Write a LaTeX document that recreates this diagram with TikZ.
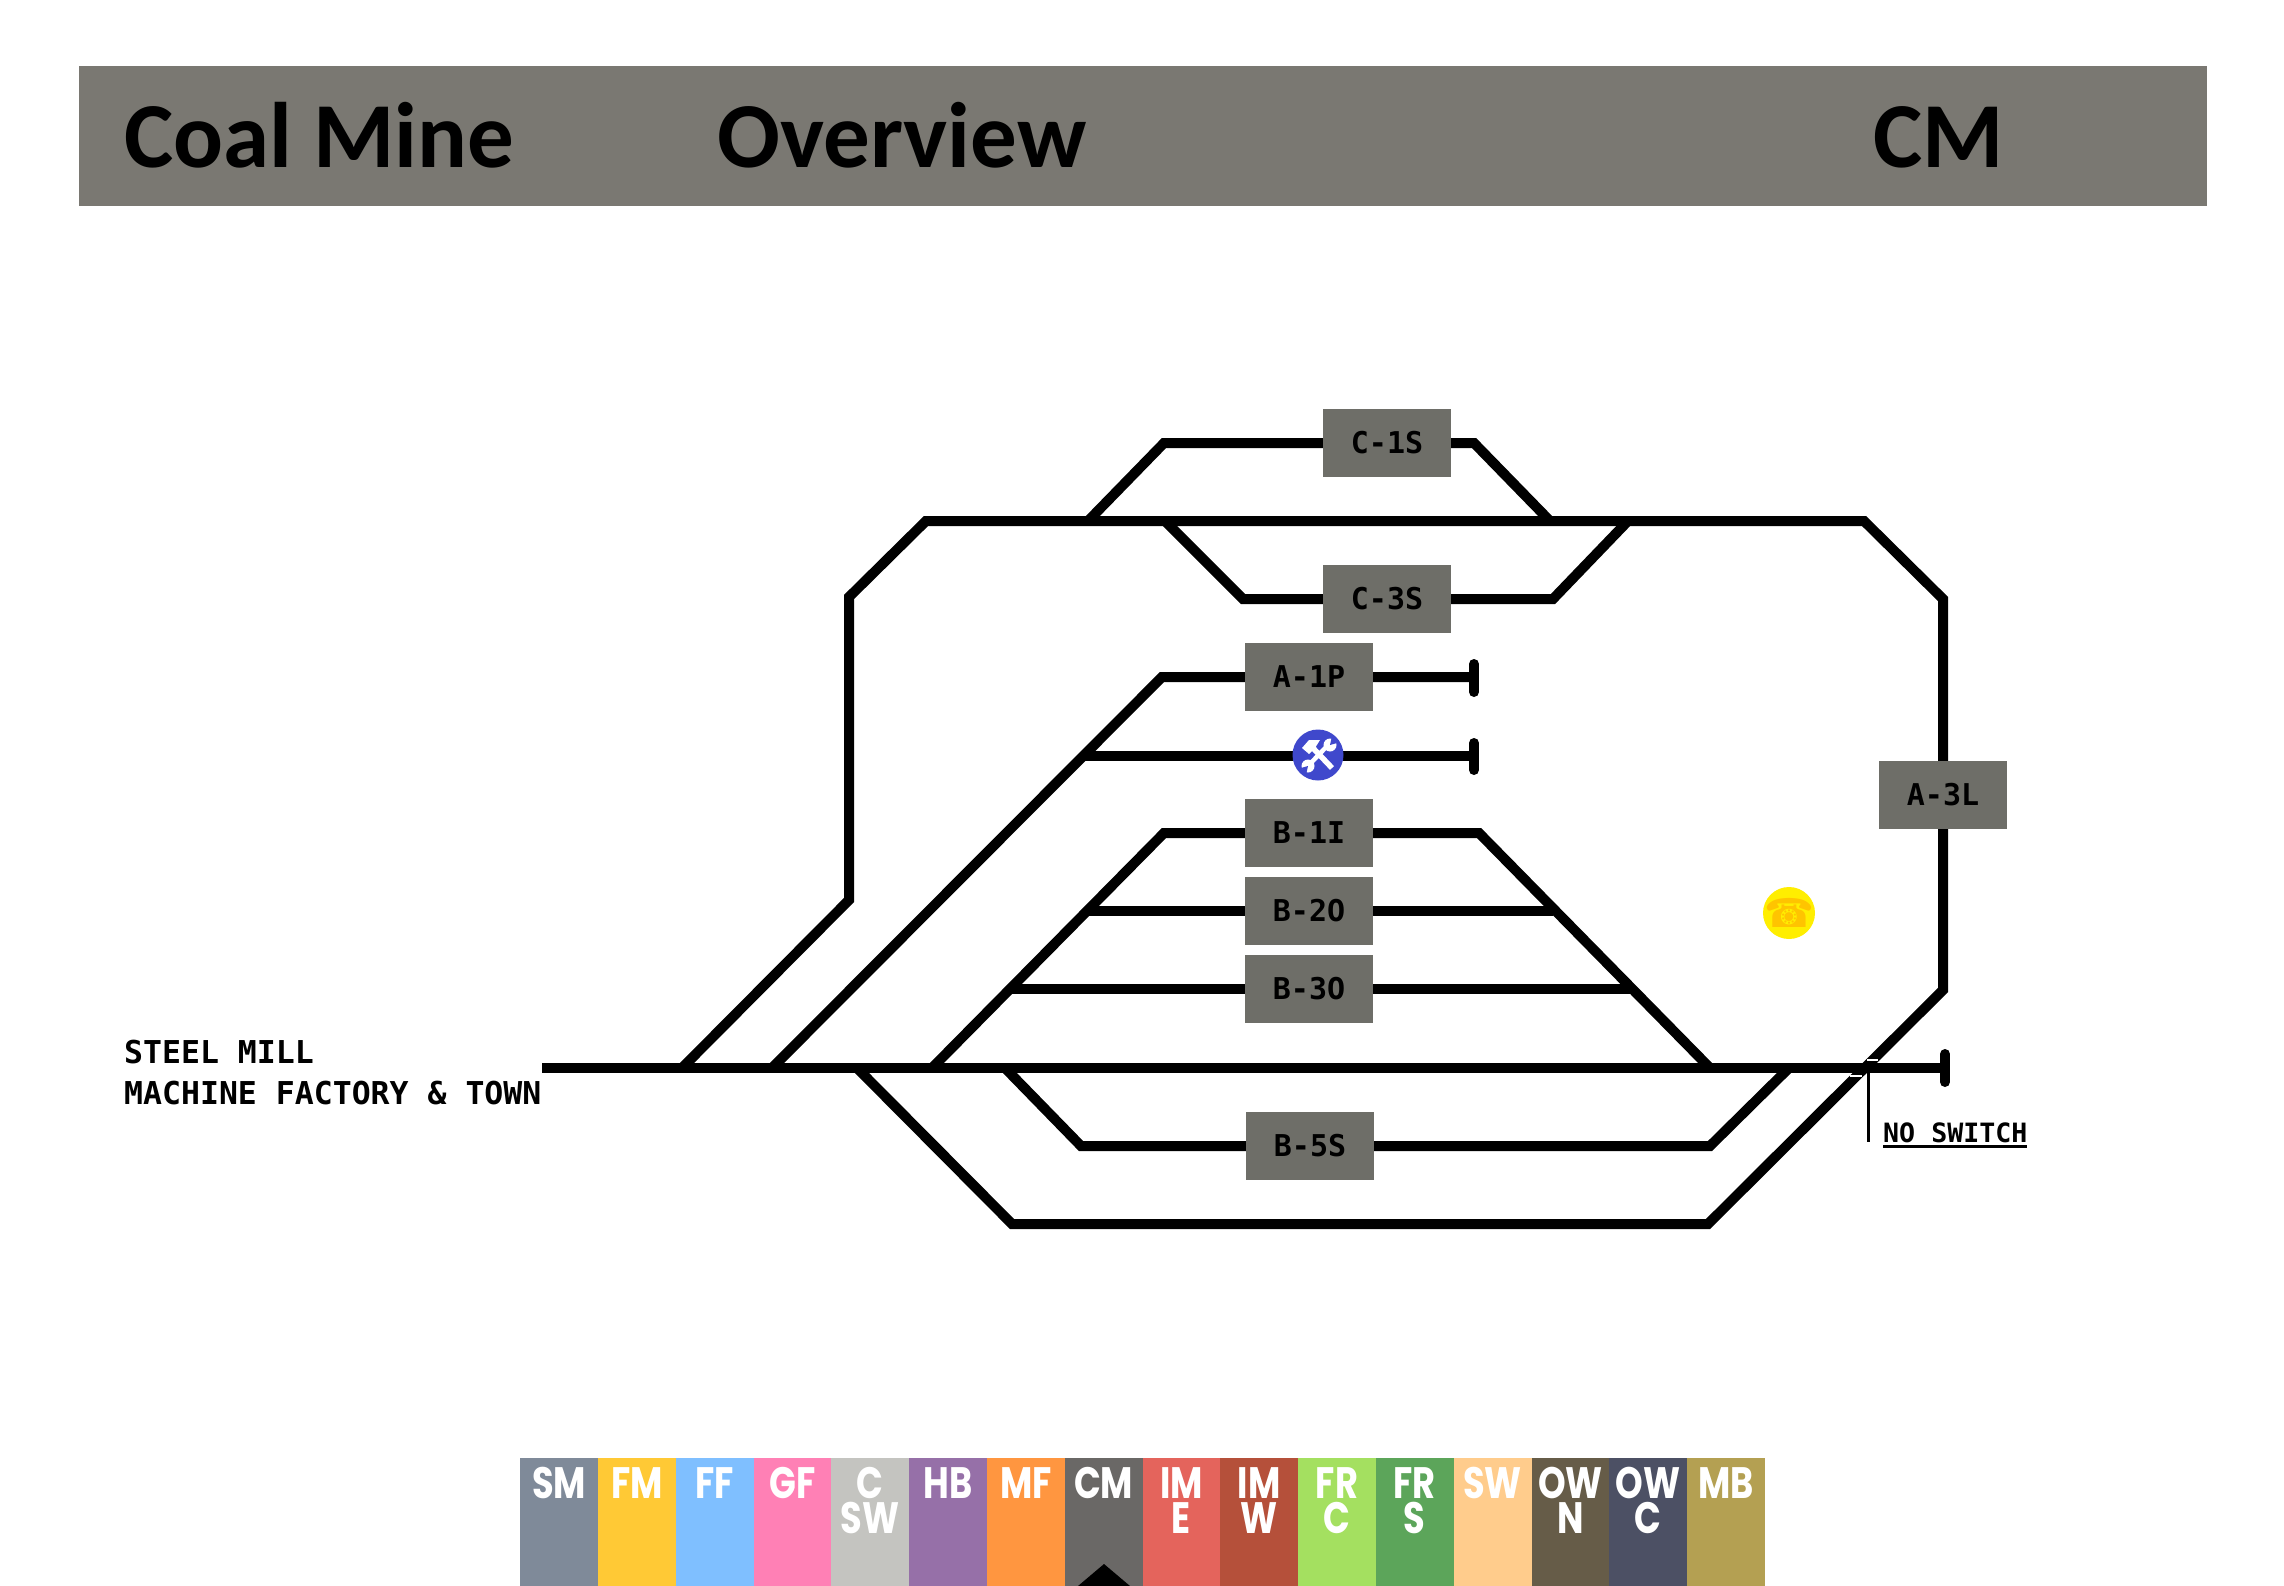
\documentclass[tikz,border=0pt]{standalone}
\usepackage{fontspec}
\usepackage{graphicx}
\setmainfont{DejaVu Sans Mono}
\newfontfamily\titlefont{Carlito}
\newfontfamily\tabfont{Poppins}
\newfontfamily\symfont{DejaVu Sans}
\definecolor{barc}{HTML}{7A7872}
\definecolor{boxc}{HTML}{6E6E68}
\definecolor{toolc}{HTML}{3F48CC}
\definecolor{phonebg}{HTML}{FFEE00}
\definecolor{phonefg}{HTML}{FFC400}
\tikzset{
  track/.style={line width=10pt,black,miter limit=10},
  stopper/.style={line width=10pt,black,line cap=round},
  box/.style={fill=boxc,minimum width=128pt,minimum height=68pt,inner sep=0pt,font=\fontsize{30}{30}\selectfont\bfseries,text=black},
  head/.style={font=\titlefont\bfseries\fontsize{93}{93}\selectfont,text=black,anchor=base west,inner sep=0pt},
  lbl/.style={font=\fontsize{31.5}{42}\selectfont\bfseries,anchor=base west,inner sep=0pt,align=left},
  tab/.style={minimum width=78pt,minimum height=128pt,inner sep=0pt,anchor=north west},
  tabtxt/.style={font=\tabfont\bfseries\fontsize{44}{35}\selectfont,text=white,inner sep=0pt,align=center,anchor=north}
}
\newcommand{\navtab}[5]{% index, colour, name, line1, line2
  \definecolor{tc#1}{HTML}{#2}
  \node[tab,fill=tc#1] (tab#3) at ({520+77.8*#1},1458) {};
  \node[tabtxt] (tab#3a) at ({559+77.8*#1},1467) {\scalebox{.8}[1]{#4}\\\scalebox{.8}[1]{#5}};
}
\newcommand{\navtabone}[4]{% index, colour, name, line
  \definecolor{tc#1}{HTML}{#2}
  \node[tab,fill=tc#1] (tab#3) at ({520+77.8*#1},1458) {};
  \node[tabtxt] (tab#3a) at ({559+77.8*#1},1467) {\scalebox{.8}[1]{#4}};
}
\begin{document}
\begin{tikzpicture}[x=1pt,y=-1pt]
\useasboundingbox (0,0) rectangle (2284,1586);
\fill[white] (0,0) rectangle (2284,1586);
% title bar
\node[fill=barc,minimum width=2128pt,minimum height=140pt,inner sep=0pt,anchor=north west] (bar) at (79,66) {};
\node[head] (t1) at (124,168) {Coal Mine};
\node[head] (t2) at (717,168) {Overview};
\node[head] (t3) at (1873,168) {CM};
% coordinates
\coordinate (ms) at (542,1068); \coordinate (me) at (1945,1068);
\coordinate (oa) at (682,1068); \coordinate (ob) at (849,900); \coordinate (oc) at (849,597);
\coordinate (od) at (926,521); \coordinate (oe) at (1864,521); \coordinate (of) at (1943,599);
\coordinate (og) at (1943,990); \coordinate (oh) at (1708,1224); \coordinate (oi) at (1012,1224);
\coordinate (oj) at (857,1068);
\coordinate (ca) at (1088,521); \coordinate (cb) at (1164,443); \coordinate (cc) at (1474,443); \coordinate (cd) at (1550,521);
\coordinate (da) at (1165,521); \coordinate (db) at (1243,599); \coordinate (dc) at (1553,599); \coordinate (dd) at (1628,521);
\coordinate (aa) at (772,1068); \coordinate (ab) at (1162,677); \coordinate (ac) at (1474,677);
\coordinate (wa) at (1085,756); \coordinate (wb) at (1474,756);
\coordinate (ba) at (932,1068); \coordinate (bb) at (1164,833); \coordinate (bc) at (1479,833); \coordinate (bd) at (1710,1068);
\coordinate (ea) at (1087,911); \coordinate (eb) at (1553,911);
\coordinate (fa) at (1008,989); \coordinate (fb) at (1631,989);
\coordinate (ga) at (1005,1068); \coordinate (gb) at (1081,1146); \coordinate (gc) at (1710,1146); \coordinate (gd) at (1789,1068);
\coordinate (nt) at (1868,1068); \coordinate (nb) at (1868,1142);
% tracks
\draw[track] (ms) -- (me);
\draw[track] (oa) -- (ob) -- (oc) -- (od) -- (oe) -- (of) -- (og) -- (oh) -- (oi) -- (oj);
\draw[track] (ca) -- (cb) -- (cc) -- (cd);
\draw[track] (da) -- (db) -- (dc) -- (dd);
\draw[track] (aa) -- (ab) -- (ac);
\draw[track] (wa) -- (wb);
\draw[track] (ba) -- (bb) -- (bc) -- (bd);
\draw[track] (ea) -- (eb);
\draw[track] (fa) -- (fb);
\draw[track] (ga) -- (gb) -- (gc) -- (gd);
% stoppers
\draw[stopper] (1474,664) -- (1474,692);
\draw[stopper] (1474,743) -- (1474,770);
\draw[stopper] (1945,1054) -- (1945,1082);
% no switch
\draw[white,line width=1.5pt] (1867,1060) -- (1878,1060);
\draw[white,line width=1.5pt] (1850,1076) -- (1862,1076);
\draw[black,line width=3pt] (nt) -- (nb);
\node[font=\fontsize{26.6}{27}\selectfont\bfseries,anchor=base west,inner sep=0pt] (ns) at (1883,1142) {NO SWITCH};
\draw[black,line width=3pt] (ns.base west) ++(0,4.5) -- ++(144,0);
% boxes
\node[box] (c1s) at (1387,443) {C-1S};
\node[box] (c3s) at (1387,599) {C-3S};
\node[box] (a1p) at (1309,677) {A-1P};
\node[box] (b1i) at (1309,833) {B-1I};
\node[box] (b2o) at (1309,911) {B-2O};
\node[box] (b3o) at (1309,989) {B-3O};
\node[box] (b5s) at (1310,1146) {B-5S};
\node[box] (a3l) at (1943,795) {A-3L};
% label
\node[lbl] (lb1) at (124,1063) {STEEL MILL};
\node[lbl] (lb2) at (124,1104) {MACHINE FACTORY \& TOWN};
% tools icon
\node[circle,fill=toolc,minimum size=51pt,inner sep=0pt] (tool) at (1318,755) {};
\begin{scope}[shift={(1318,755)}]
  % wrench
  \draw[white,line width=4.5pt] (11,-11) -- (-10,11);
  \fill[white] (12,-10) circle (6.5pt);
  \fill[white] (-10,11) circle (6.5pt);
  \fill[toolc] (12,-10) -- ++(7,-2) -- ++(-5,-7) -- cycle;
  \fill[toolc] (-10,11) -- ++(-7,2) -- ++(5,7) -- cycle;
  % hammer
  \draw[white,line width=5.5pt] (-6,-8) -- (14,13);
  \fill[white] (-16,-7) -- (-9,-15) -- (2,-15) -- (-3,-7) -- (-9,-1) -- cycle;
\end{scope}
% phone icon
\node[circle,fill=phonebg,minimum size=52pt,inner sep=0pt] (phone) at (1789,913) {};
\node[font=\symfont\fontsize{40}{40}\selectfont,text=phonefg,inner sep=0pt] (ph) at (1789,913) {☎};
% nav tabs
\navtabone{0}{7F8A99}{a}{SM}
\navtabone{1}{FFC935}{b}{FM}
\navtabone{2}{7FBFFF}{c}{FF}
\navtabone{3}{FF80B5}{d}{GF}
\navtab{4}{C4C4C0}{e}{C}{SW}
\navtabone{5}{9670A8}{f}{HB}
\navtabone{6}{FF9640}{g}{MF}
\navtabone{7}{6A6866}{h}{CM}
\navtab{8}{E4645C}{i}{IM}{E}
\navtab{9}{B5503A}{j}{IM}{W}
\navtab{10}{A4E060}{k}{FR}{C}
\navtab{11}{5CA55A}{l}{FR}{S}
\navtabone{12}{FFCC8C}{m}{SW}
\navtab{13}{665C48}{n}{OW}{N}
\navtab{14}{4C5064}{o}{OW}{C}
\navtabone{15}{B4A052}{p}{MB}
\fill[black] (1104,1564) -- (1130,1586) -- (1078,1586) -- cycle;
\end{tikzpicture}
\end{document}
